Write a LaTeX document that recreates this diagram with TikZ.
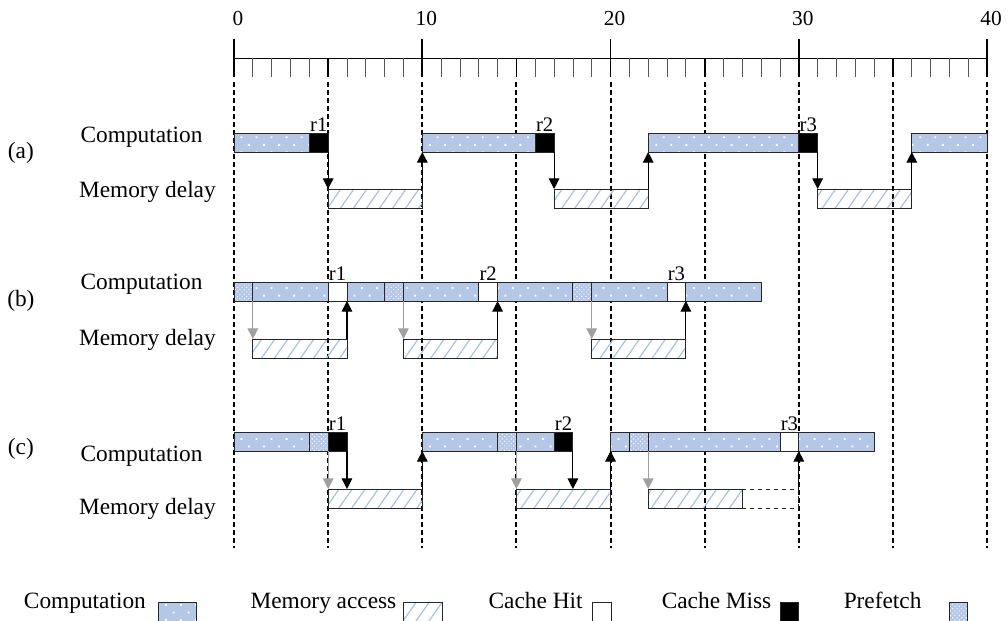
\documentclass[tikz,border=0pt]{standalone}
\usepackage{fontspec}
\setmainfont{Liberation Serif}
\usetikzlibrary{positioning,arrows.meta,patterns.meta}
\definecolor{cblu}{HTML}{B4C7E7}
\definecolor{lblu}{HTML}{A9C0E6}
\definecolor{ink}{HTML}{000000}
\definecolor{gry}{HTML}{A0A0A0}
\definecolor{tck}{HTML}{555555}

\begin{document}
\begin{tikzpicture}[
  x=14.12pt, y=-0.75pt,
  font=\fontsize{17.5}{21}\selectfont,
  seg/.style={minimum width=#1*14.12pt, minimum height=14.25pt, inner sep=0pt, outer sep=0pt,
              anchor=north west, draw=ink!85, line width=0.65pt},
  comp/.style={seg=#1, preaction={fill=cblu}, pattern={Dots[radius=1pt, distance=8pt, angle=45]}, pattern color=white},
  pref/.style={seg=1, preaction={fill=cblu}, pattern={Dots[radius=0.55pt, distance=2.4pt, angle=45]}, pattern color=white},
  miss/.style={seg=1, fill=ink},
  hit/.style={seg=1, fill=white},
  mem/.style={seg=#1, pattern={Lines[angle=55, distance=8pt, line width=0.9pt]}, pattern color=lblu},
  >={Triangle[length=8pt,width=8pt]},
  req/.style={->, line width=0.8pt, ink},
  pfa/.style={->, line width=0.8pt, gry},
  vline/.style={line width=1.5pt, ink, dash pattern=on 3.75pt off 2.25pt},
  rtick/.style={line width=0.6pt, tck},
  btick/.style={line width=1.2pt, ink},
  rlab/.style={font=\fontsize{15.5}{18}\selectfont, inner sep=0pt},
  numlab/.style={font=\fontsize{16}{19}\selectfont, inner sep=0pt, anchor=base},
  lab/.style={inner sep=0pt, anchor=base}
]
\useasboundingbox (-12.43,0) rectangle (41.11,620);

% ---------------------------------------------------------------- ruler
\draw[line width=0.6pt] (0,58) -- (40,58);
\foreach \t in {0,...,40} \draw[rtick] (\t,58) -- (\t,77);
\foreach \t in {5,15,25,35} \draw[btick] (\t,58) -- (\t,77);
\foreach \t in {0,10,...,40} {
  \draw[btick] (\t,39) -- (\t,77);
  \node[numlab] (n\t) at ([xshift=3pt]\t,25.5) {\t};
}
\foreach \t in {0,5,...,40} \draw[vline] (\t,82) -- (\t,548);

% ---------------------------------------------------------------- (a) no prefetch
\node[lab] (tagA) at (-11.32,158) {(a)};
\node[lab] (compA) at (-4.91,142) {Computation};
\node[lab] (memA) at (-4.6,197) {Memory delay};
\node[comp=4] (a1) at (0,133) {};
\node[miss, right=0pt of a1] (am1) {};
\node[comp=6] (a2) at (10,133) {};
\node[miss, right=0pt of a2] (am2) {};
\node[comp=8] (a3) at (22,133) {};
\node[miss, right=0pt of a3] (am3) {};
\node[comp=4] (a4) at (36,133) {};
\node[mem=5] (aM1) at (5,189) {};
\node[mem=5] (aM2) at (17,189) {};
\node[mem=5] (aM3) at (31,189) {};
\node[rlab, above=1pt of am1] (ar1) {r1};
\node[rlab, above=1pt of am2] (ar2) {r2};
\node[rlab, above=1pt of am3] (ar3) {r3};
\draw[req] (am1.south east) -- (aM1.north west);
\draw[req] (aM1.north east) -- (a2.south west);
\draw[req] (am2.south east) -- (aM2.north west);
\draw[req] (aM2.north east) -- (a3.south west);
\draw[req] (am3.south east) -- (aM3.north west);
\draw[req] (aM3.north east) -- (a4.south west);

% ---------------------------------------------------------------- (b) prefetch, all hits
\node[lab] (tagB) at (-11.32,306) {(b)};
\node[lab] (compB) at (-4.91,289) {Computation};
\node[lab] (memB) at (-4.6,345) {Memory delay};
\node[pref] (bp1) at (0,282) {};
\node[comp=4, right=0pt of bp1] (b1) {};
\node[hit, right=0pt of b1] (bh1) {};
\node[comp=2, right=0pt of bh1] (b2) {};
\node[pref, right=0pt of b2] (bp2) {};
\node[comp=4, right=0pt of bp2] (b3) {};
\node[hit, right=0pt of b3] (bh2) {};
\node[comp=4, right=0pt of bh2] (b4) {};
\node[pref, right=0pt of b4] (bp3) {};
\node[comp=4, right=0pt of bp3] (b5) {};
\node[hit, right=0pt of b5] (bh3) {};
\node[comp=4, right=0pt of bh3] (b6) {};
\node[mem=5] (bM1) at (1,339) {};
\node[mem=5] (bM2) at (9,339) {};
\node[mem=5] (bM3) at (19,339) {};
\node[rlab, above=1pt of bh1] (br1) {r1};
\node[rlab, above=1pt of bh2] (br2) {r2};
\node[rlab, above=1pt of bh3] (br3) {r3};
\draw[pfa] (bp1.south east) -- (bM1.north west);
\draw[req] (bM1.north east) -- (bh1.south east);
\draw[pfa] (bp2.south east) -- (bM2.north west);
\draw[req] (bM2.north east) -- (bh2.south east);
\draw[pfa] (bp3.south east) -- (bM3.north west);
\draw[req] (bM3.north east) -- (bh3.south east);

% ---------------------------------------------------------------- (c) late prefetch
\node[lab] (tagC) at (-11.32,454) {(c)};
\node[lab] (compC) at (-4.91,461) {Computation};
\node[lab] (memC) at (-4.6,514) {Memory delay};
\node[comp=4] (c1) at (0,432) {};
\node[pref, right=0pt of c1] (cp1) {};
\node[miss, right=0pt of cp1] (cm1) {};
\node[comp=4] (c2) at (10,432) {};
\node[pref, right=0pt of c2] (cp2) {};
\node[comp=2, right=0pt of cp2] (c3) {};
\node[miss, right=0pt of c3] (cm2) {};
\node[comp=1] (c4) at (20,432) {};
\node[pref, right=0pt of c4] (cp3) {};
\node[comp=7, right=0pt of cp3] (c5) {};
\node[hit, right=0pt of c5] (ch3) {};
\node[comp=4, right=0pt of ch3] (c6) {};
\node[mem=5] (cM1) at (5,489) {};
\node[mem=5] (cM2) at (15,489) {};
\node[mem=5] (cM3) at (22,489) {};
\node[seg=3, dashed, right=0pt of cM3] (cM4) {};
\node[rlab, above=1pt of cm1] (cr1) {r1};
\node[rlab, above=1pt of cm2] (cr2) {r2};
\node[rlab, above=1pt of ch3] (cr3) {r3};
\draw[pfa] (cp1.south east) -- (cM1.north west);
\draw[req] (cm1.south east) -- (cm1.south east |- cM1.north);
\draw[req] (cM1.north east) -- (c2.south west);
\draw[pfa] (cp2.south east) -- (cM2.north west);
\draw[req] (cm2.south east) -- (cm2.south east |- cM2.north);
\draw[req] (cM2.north east) -- (c4.south west);
\draw[pfa] (cp3.south east) -- (cM3.north west);
\draw[req] (cM4.north east) -- (ch3.south east);

% ---------------------------------------------------------------- legend
\node[lab] (lgComp) at (-7.92,608.5) {Computation};
\node[comp=2.07] (lgCompBox) at (-4.04,602) {};
\node[lab] (lgMem) at (4.75,608.5) {Memory access};
\node[mem=2.07] (lgMemBox) at (8.98,602) {};
\node[lab] (lgHit) at (16.02,608.5) {Cache Hit};
\node[hit] (lgHitBox) at (19.02,602) {};
\node[lab] (lgMiss) at (25.63,608.5) {Cache Miss};
\node[miss] (lgMissBox) at (29,602) {};
\node[lab] (lgPref) at (34.45,608.5) {Prefetch};
\node[pref] (lgPrefBox) at (37.98,602) {};
\end{tikzpicture}
\end{document}
